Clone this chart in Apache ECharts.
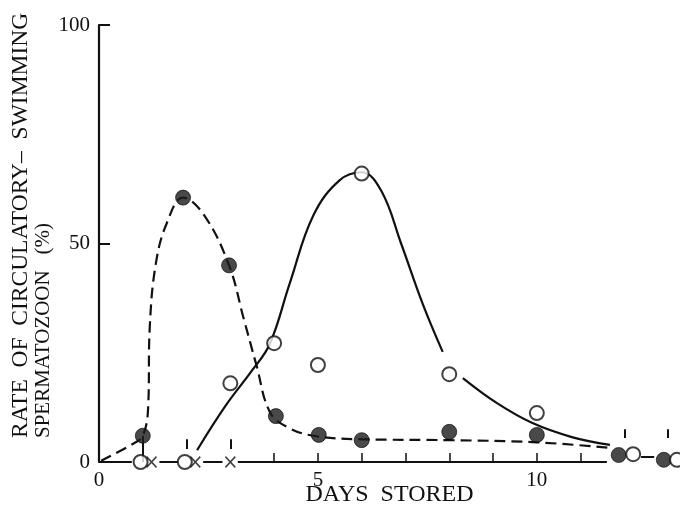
<!DOCTYPE html>
<html><head><meta charset="utf-8">
<script src="https://cdn.jsdelivr.net/npm/echarts@6/dist/echarts.min.js"></script>
<style>html,body{margin:0;padding:0;background:#fff}#c{width:680px;height:516px}</style>
</head><body><div id="c"></div>
<script>
// ---- data ----
const xTickLabels = [0, 5, 10];
const xMinorTicks = [4, 5, 6, 7, 8, 9, 10, 11];
const yTickLabels = [0, 50, 100];
const yTicks = [50, 100];
// filled circles (dashed curve group)
const filledPoints = [[1, 6], [1.92, 60.5], [2.97, 45], [4.04, 10.5], [5.02, 6.2], [6, 5], [8, 6.9], [10, 6.2], [11.87, 1.6], [12.9, 0.5]];
// open circles (solid curve group)
const openPoints = [[0.95, 0], [1.96, 0], [3, 18], [4, 27.2], [5, 22.2], [6, 66], [8, 20.1], [10, 11.2], [12.2, 1.8], [13.2, 0.5]];
// crosses on the baseline
const crossPoints = [[1.2, 0], [2.2, 0], [3, 0]];
// traced fitted curves
const dashedCurve = [[0.05, 0.3], [0.8, 4.3], [1.0, 6], [1.12, 12], [1.16, 31], [1.3, 45.5], [1.55, 54.7], [1.92, 60.5], [2.4, 56.5], [2.97, 45], [3.3, 33], [3.6, 22], [3.9, 11.5], [4.3, 8], [4.9, 6], [6, 5.2], [8, 5], [10, 4.5], [11.7, 3.2]];
const solidCurve = [[2.24, 2.7], [2.9, 13], [3.5, 21], [3.9, 27], [4.36, 41], [4.9, 56.5], [5.5, 64.5], [6.0, 66.3], [6.45, 62], [6.9, 50], [7.4, 36], [7.85, 25.2], null, [8.31, 19.2], [9.1, 13.4], [9.9, 8.9], [10.8, 5.7], [11.67, 3.9]];
// baseline pieces (day ranges) drawn along y = 0
const baseSegments = [[0, 0.75], [1.38, 1.8], [2.38, 2.82], [3.17, 11.6]];
// short vertical marks above points
const pointMarks = [2, 3, 12, 13];

const FONT = '"Liberation Serif", "DejaVu Serif", serif';
const INK = '#111';

function splitNulls(arr) {
  const out = []; let cur = [];
  arr.forEach(p => { if (p === null) { if (cur.length) out.push(cur); cur = []; } else cur.push(p); });
  if (cur.length) out.push(cur);
  return out;
}

const series = [];
series.push({
  type: 'line', data: dashedCurve, smooth: 0.4, symbol: 'none', z: 2,
  lineStyle: { color: INK, width: 2.2, type: [11, 6] }
});
splitNulls(solidCurve).forEach(seg => series.push({
  type: 'line', data: seg, smooth: 0.4, symbol: 'none', z: 2,
  lineStyle: { color: INK, width: 2.2, type: 'solid' }
}));
const markSegs = baseSegments.map(s => [{ coord: [s[0], 0] }, { coord: [s[1], 0] }]);
markSegs.push([{ coord: [1, 0] }, { coord: [1, 6] }]);
pointMarks.forEach(d => {
  const lo = d < 10 ? 3 : 5.5, hi = d < 10 ? 5.2 : 7.5;
  markSegs.push([{ coord: [d, lo] }, { coord: [d, hi] }]);
});
markSegs.push([{ coord: [12.38, 1.2] }, { coord: [12.68, 1.2] }]);
series.push({
  type: 'scatter', data: crossPoints, z: 4,
  symbol: 'path://M0,1 L1,0 L5,4 L9,0 L10,1 L6,5 L10,9 L9,10 L5,6 L1,10 L0,9 L4,5 Z',
  symbolSize: [11, 12], itemStyle: { color: INK },
  markLine: {
    silent: true, symbol: ['none', 'none'], animation: false,
    lineStyle: { color: INK, width: 2, type: 'solid' }, label: { show: false },
    emphasis: { disabled: true }, data: markSegs
  }
});
series.push({
  type: 'scatter', data: filledPoints, z: 5, symbol: 'circle', symbolSize: 15,
  itemStyle: { color: '#1c1c1c', borderColor: '#000', borderWidth: 0.8 }
});
series.push({
  type: 'scatter', data: openPoints, z: 6, symbol: 'circle', symbolSize: 14,
  itemStyle: { color: '#fff', borderColor: INK, borderWidth: 2 }
});

const chart = echarts.init(document.getElementById('c'), null, { renderer: 'canvas' });
chart.setOption({
  animation: false,
  backgroundColor: '#fff',
  grid: { left: 99, right: 0, top: 25, bottom: 54, containLabel: false, outerBoundsMode: 'none' },
  xAxis: {
    type: 'value', min: 0, max: 13.27,
    axisLine: { show: false },
    axisTick: { show: true, inside: true, length: 9, customValues: xMinorTicks, lineStyle: { color: INK, width: 1.5 } },
    axisLabel: { customValues: xTickLabels, margin: 8, fontFamily: FONT, fontSize: 21, color: INK },
    splitLine: { show: false },
    name: 'DAYS  STORED', nameLocation: 'middle', nameGap: 21, nameMoveOverlap: false,
    nameTextStyle: { fontFamily: FONT, fontSize: 24, color: INK, verticalAlign: 'top' }
  },
  yAxis: {
    type: 'value', min: 0, max: 100, interval: 50,
    axisLine: { show: true, lineStyle: { color: INK, width: 2.2 } },
    axisTick: { show: true, inside: true, length: 11, customValues: yTicks, lineStyle: { color: INK, width: 2 } },
    axisLabel: { customValues: yTickLabels, margin: 9, fontFamily: FONT, fontSize: 21, color: INK },
    splitLine: { show: false }
  },
  graphic: [
    { type: 'text', x: 21, y: 438, rotation: Math.PI / 2,
      style: { text: 'RATE  OF  CIRCULATORY–  SWIMMING', fontFamily: FONT, fontSize: 23.5, fill: INK, align: 'left', verticalAlign: 'middle' } },
    { type: 'text', x: 43, y: 438, rotation: Math.PI / 2,
      style: { text: 'SPERMATOZOON   (%)', fontFamily: FONT, fontSize: 21, fill: INK, align: 'left', verticalAlign: 'middle' } }
  ],
  series: series
});
</script></body></html>
